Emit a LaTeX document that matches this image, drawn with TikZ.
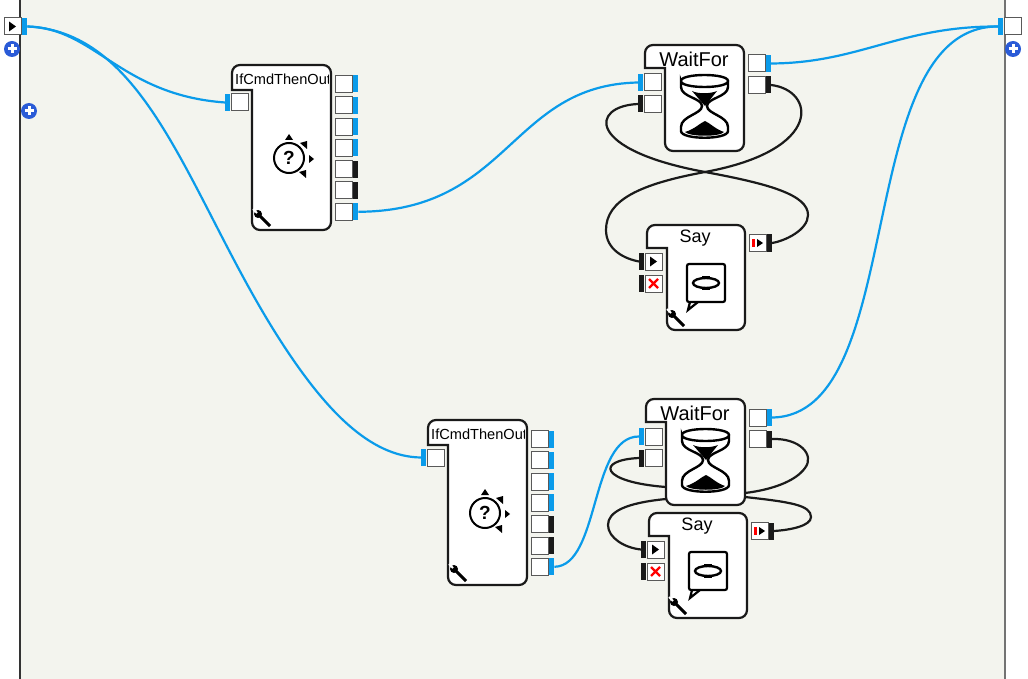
\documentclass[tikz,border=0pt]{standalone}
\usepackage{fontspec}
\setmainfont{Liberation Sans}
\usetikzlibrary{positioning,calc}
\definecolor{wireblue}{HTML}{0A9BEA}
\definecolor{wireblack}{HTML}{1A1A1A}
\definecolor{panelbg}{HTML}{F3F4EE}
\definecolor{plusblue}{HTML}{2A5BD7}
\tikzset{
  portbox/.style={draw=black!65,fill=white,line width=1,minimum width=17,minimum height=17,inner sep=0},
  stubbar/.style={fill=#1,draw=none,minimum width=5,minimum height=17,inner sep=0},
  bluewire/.style={draw=wireblue,line width=2.2},
  blackwire/.style={draw=wireblack,line width=2.2},
  blockline/.style={draw=wireblack,fill=white,line width=2.2},
  plussign/.pic={
    \fill[plusblue] (0,0) circle (8);
    \draw[white,line width=3] (-4.5,0) -- (4.5,0) (0,-4.5) -- (0,4.5);
  },
  wrench/.pic={
    \draw[black,line width=3] (0,0) -- (12,12);
    \fill[black] (0,0) circle (4);
    \draw[white,line width=2] (-1,-1) -- (-5,-5);
  },
  smallarrow/.pic={
    \fill[black] (-3,-5) -- (4,0) -- (-3,5) -- cycle;
  },
}
% port with its bar on the right or on the left
\newcommand{\portR}[4]{
  \node[portbox] (#1) at (#2,#3) {};
  \node[stubbar=#4,right=0pt of #1] (#1bar) {};
}
\newcommand{\portL}[4]{
  \node[portbox] (#1) at (#2,#3) {};
  \node[stubbar=#4,left=0pt of #1] (#1bar) {};
}
\newcommand{\ifcmdblock}[3]{
\begin{scope}[shift={(#2,#3)}]
\draw[blockline] (232,90) [rounded corners=8] -- (232,65) -- (331,65) -- (331,230) -- (252,230) [sharp corners] -- (252,90) -- cycle;
\begin{scope}
\clip (233,66) rectangle (328,90);
\node[anchor=west,inner sep=0] (#1title) at (235,79) {\fontsize{14.6}{15}\selectfont IfCmdThenOut};
\end{scope}
\node[draw=black,line width=2,circle,minimum size=30,inner sep=0,font=\bfseries\fontsize{19}{19}\selectfont] (#1icon) at (289,158) {?};
\fill[black] (289,134) -- (293,140) -- (285,140) -- cycle;
\fill[black] (300,143) -- (307,141) -- (307,149) -- cycle;
\fill[black] (309,155) -- (314,159) -- (309,163) -- cycle;
\fill[black] (299,172) -- (306,170) -- (306,178) -- cycle;
\pic at (258,214) {wrench};
\portL{#1in}{239.5}{102.5}{wireblue}
\foreach \i/\y/\c in {1/84/wireblue,2/105.3/wireblue,3/126.6/wireblue,4/147.9/wireblue,5/169.2/wireblack,6/190.5/wireblack,7/211.8/wireblue}
  {\portR{#1out\i}{344}{\y}{\c}}
\end{scope}
}
\newcommand{\waitforblock}[3]{
\begin{scope}[shift={(#2,#3)}]
\draw[blockline] (645,68) [rounded corners=8] -- (645,45) -- (744,45) -- (744,151) -- (665,151) [sharp corners] -- (665,68) -- cycle;
\node[font=\fontsize{20}{20}\selectfont,inner sep=0] (#1title) at (694,59) {WaitFor};
% hourglass
\fill[black] (692,91) .. controls (698,94) and (710,94) .. (717,91) -- (705,106) -- cycle;
\fill[black] (685,132) .. controls (695,129) and (700,123) .. (705,121) .. controls (710,123) and (715,129) .. (724,132) .. controls (720,137) and (690,137) .. (685,132) -- cycle;
\draw[black,line width=2.4] (681,81) .. controls (681,73) and (728,73) .. (728,81) .. controls (728,89) and (681,89) .. (681,81) -- (681,87) .. controls (681,97) and (702,98) .. (702,106) .. controls (702,114) and (681,116) .. (681,127) -- (681,131) .. controls (681,140) and (728,140) .. (728,131) -- (728,127) .. controls (728,116) and (707,114) .. (707,106) .. controls (707,98) and (728,97) .. (728,87) -- (728,81);
\portL{#1inA}{652.5}{82.5}{wireblue}
\portL{#1inB}{652.5}{104}{wireblack}
\portR{#1outA}{756.5}{63.5}{wireblue}
\portR{#1outB}{756.5}{85}{wireblack}
\end{scope}
}
\newcommand{\sayblock}[3]{
\begin{scope}[shift={(#2,#3)}]
\draw[blockline] (647,248) [rounded corners=8] -- (647,225) -- (745,225) -- (745,330) -- (667,330) [sharp corners] -- (667,248) -- cycle;
\node[font=\fontsize{18}{18}\selectfont,inner sep=0] (#1title) at (695,238) {Say};
\draw[black,line width=2.2] (690,302) -- (688,310) -- (698,302);
\draw[black,line width=2.2,rounded corners=2] (687,264) rectangle (725,302);
\draw[black,line width=2.4] (706,283) ellipse (13 and 5);
\draw[black,line width=1.6] (702,277) -- (710,277) (702,289) -- (710,289);
\pic at (672,314) {wrench};
\portL{#1run}{653.5}{261.5}{wireblack}
\pic at (653,261.5) {smallarrow};
\portL{#1stop}{653.5}{283.5}{wireblack}
\draw[red,line width=2.4] (649,279) -- (658,288) (658,279) -- (649,288);
\portR{#1done}{757.5}{243}{wireblack}
\fill[red] (752,239) rectangle (755,247);
\fill[black] (757,239) -- (763,243) -- (757,247) -- cycle;
\end{scope}
}
\begin{document}
\begin{tikzpicture}[x=1pt,y=-1pt]
\useasboundingbox (0,0) rectangle (1028,679);
\fill[white] (0,0) rectangle (1028,679);
\fill[panelbg] (20,0) rectangle (1005,679);
\draw[black!80,line width=1.4] (20,0) -- (20,679);
\draw[black!55,line width=1.6] (1005,0) -- (1005,679);

\ifcmdblock{ifA}{0}{0}
\ifcmdblock{ifB}{196}{355}
\waitforblock{waitA}{0}{0}
\waitforblock{waitB}{1}{354}
\sayblock{sayA}{0}{0}
\sayblock{sayB}{2}{288}

\portR{start}{13}{26.5}{wireblue}
\pic at (12,26.5) {smallarrow};
\portL{finish}{1012.5}{26.5}{wireblue}
\pic at (12,49) {plussign};
\pic at (29,111) {plussign};
\pic at (1013,49) {plussign};

\draw[bluewire] (startbar.east) .. controls (95,28) and (120,95) .. (ifAinbar.west);
\draw[bluewire] (startbar.east) .. controls (150,32) and (190,200) .. (280,340) .. controls (325,410) and (370,457) .. (ifBinbar.west);
\draw[bluewire] (ifAout7bar.east) .. controls (510,211) and (510,85) .. (waitAinAbar.west);
\draw[bluewire] (ifBout7bar.east) .. controls (600,566) and (590,436) .. (waitBinAbar.west);
\draw[bluewire] (waitAoutAbar.east) .. controls (860,63) and (900,26) .. (finishbar.west);
\draw[bluewire] (waitBoutAbar.east) .. controls (910,416) and (850,26) .. (finishbar.west);

\draw[blackwire] (waitAinBbar.west) .. controls (590,106) and (585,150) .. (705,172) .. controls (770,184) and (808,195) .. (808,215) .. controls (808,230) and (785,241) .. (sayAdonebar.east);
\draw[blackwire] (waitAoutBbar.east) .. controls (815,90) and (825,150) .. (705,172) .. controls (640,184) and (606,200) .. (606,230) .. controls (606,250) and (625,259) .. (sayArunbar.west);
\begin{scope}[on background layer/.style={}]
\end{scope}
\draw[blackwire] (waitBinBbar.west) .. controls (595,460) and (600,482) .. (666,487);
\draw[blackwire] (745,497) .. controls (790,502) and (811,505) .. (811,517) .. controls (811,526) and (790,530) .. (sayBdonebar.east);
\draw[blackwire] (waitBoutBbar.east) .. controls (800,438) and (815,455) .. (805,468) .. controls (795,482) and (770,490) .. (745,493);
\draw[blackwire] (666,499) .. controls (625,503) and (608,512) .. (608,525) .. controls (608,538) and (625,548) .. (sayBrunbar.west);
\end{tikzpicture}
\end{document}
